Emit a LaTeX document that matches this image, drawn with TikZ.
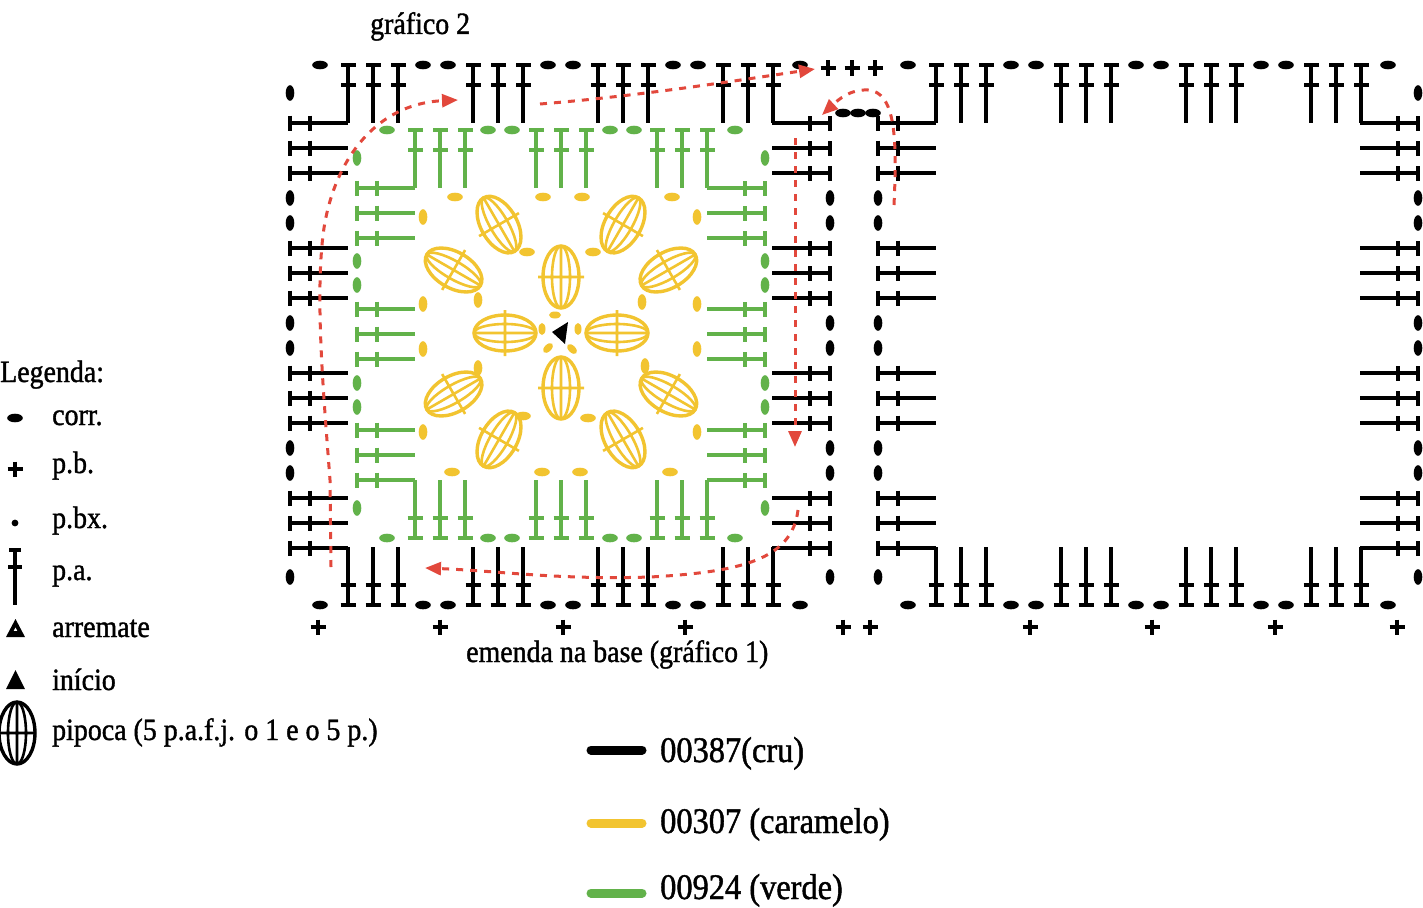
\documentclass[tikz,border=0pt]{standalone}
\usepackage{fontspec}
\setmainfont{Liberation Serif}[FakeStretch=0.9,FakeBold=1.2]
\usetikzlibrary{arrows.meta}
\definecolor{grn}{RGB}{98,178,74}
\definecolor{ylw}{RGB}{242,196,48}
\definecolor{rd}{RGB}{226,72,60}
\tikzset{
  blk/.style={draw=black, line width=3.6pt},
  gst/.style={draw=grn, line width=3.6pt},
  lbl/.style={font=\fontsize{31}{36}\selectfont, inner sep=0pt, anchor=base west},
  clbl/.style={font=\fontsize{36}{40}\selectfont, inner sep=0pt, anchor=base west},
  redpath/.style={draw=rd, line width=3pt, dash pattern=on 7pt off 7pt},
  redarrow/.style={redpath, -{Triangle[length=16pt,width=13pt]}},
  colorbar/.style={line width=9pt, line cap=round}
}
% p.a. stitch: bar at (x,y), stem of 58 in direction given by angle
\newcommand{\pastitch}[4]{%
  \begin{scope}[shift={({#2},{#3})}, rotate=#4]
    \draw[#1] (0,-7.5) -- (0,7.5) (0,0) -- (58,0) (20,-7.5) -- (20,7.5);
  \end{scope}}
% chain (corr.)
\newcommand{\chn}[4]{%
  \begin{scope}[shift={({#2},{#3})}, rotate=#4]
    \fill[#1] (0,0) ellipse [x radius=7.8, y radius=4.3];
  \end{scope}}
\newcommand{\chsmall}[4]{%
  \begin{scope}[shift={({#2},{#3})}, rotate=#4]
    \fill[#1] (0,0) ellipse [x radius=6, y radius=3.5];
  \end{scope}}
% p.b.
\newcommand{\pbst}[2]{\draw[blk, line width=3.2pt] ({#1-7.5},{#2}) -- ({#1+7.5},{#2}) ({#1},{#2-7.5}) -- ({#1},{#2+7.5});}
% pipoca
\newcommand{\pipoca}[5]{%
  \begin{scope}[shift={({#2},{#3})}, rotate=#4]
    \draw[draw=#1, line width=3.4pt] (0,0) ellipse [x radius=31, y radius=18];
    \draw[draw=#1, line width=2.6pt] (0,0) ellipse [x radius=31, y radius=9]
      (-31,0) -- (31,0) (0,-#5) -- (0,#5);
  \end{scope}}
% common black square (left square geometry, shifted)
\newcommand{\crusq}[1]{%
  \begin{scope}[shift={(#1,0)}]
    \foreach \o in {58,83,108,183,208,233,308,333,358,433,458,483}{
      \pastitch{blk}{290+\o}{65}{-90}
      \pastitch{blk}{290+\o}{605}{90}
      \pastitch{blk}{290}{65+\o}{0}
      \pastitch{blk}{830}{65+\o}{180}
    }
    \foreach \o in {133,158,258,283,383,408}{
      \chn{black}{290+\o}{65}{0}
      \chn{black}{290+\o}{605}{0}
      \chn{black}{290}{65+\o}{90}
      \chn{black}{830}{65+\o}{90}
    }
    \chn{black}{320}{65}{0}\chn{black}{800}{65}{0}
    \chn{black}{320}{605}{0}\chn{black}{800}{605}{0}
    \chn{black}{290}{577}{90}\chn{black}{830}{577}{90}
  \end{scope}}
\begin{document}
\begin{tikzpicture}[x=1pt,y=-1pt]
\useasboundingbox (0,0) rectangle (1423,907);
\fill[white] (0,0) rectangle (1423,907);

% ---------- black outer rounds ----------
\crusq{0}
\crusq{588}
\chn{black}{290}{93}{90}
\chn{black}{1418}{93}{90}
% join between the squares
\pbst{828}{68}\pbst{852}{68}\pbst{875}{68}
\chn{black}{843}{113}{0}\chn{black}{858}{113}{0}\chn{black}{873}{113}{0}
% p.b. along the base
\foreach \px in {318,440,563,685,843,870,1030,1152,1275,1397}{\pbst{\px}{627}}

% ---------- green round ----------
\foreach \o in {58,83,108,179,204,229,300,325,350}{
  \pastitch{gst}{357+\o}{130}{-90}
  \pastitch{gst}{357+\o}{538}{90}
  \pastitch{gst}{357}{130+\o}{0}
  \pastitch{gst}{765}{130+\o}{180}
}
\foreach \o in {131,155,253,277}{
  \chn{grn}{357+\o}{130}{0}
  \chn{grn}{357+\o}{538}{0}
  \chn{grn}{357}{130+\o}{90}
  \chn{grn}{765}{130+\o}{90}
}
\chn{grn}{387}{130}{0}\chn{grn}{735}{130}{0}
\chn{grn}{387}{538}{0}\chn{grn}{735}{538}{0}
\chn{grn}{357}{158}{90}\chn{grn}{357}{508}{90}
\chn{grn}{765}{158}{90}\chn{grn}{765}{508}{90}

% ---------- yellow flower ----------
\foreach \px in {455,543,582,672}{\chn{ylw}{\px}{197}{0}}
\foreach \px in {452,542,580,670}{\chn{ylw}{\px}{472}{0}}
\foreach \py in {217,304,349,432}{\chn{ylw}{423}{\py}{90}\chn{ylw}{697}{\py}{90}}
\chn{ylw}{527}{252}{0}\chn{ylw}{593}{252}{0}
\chn{ylw}{523}{416}{0}\chn{ylw}{588}{418}{0}
\chn{ylw}{478}{300}{90}\chn{ylw}{478}{368}{90}
\chn{ylw}{642}{302}{90}\chn{ylw}{645}{366}{90}
\chsmall{ylw}{555}{315}{0}
\chsmall{ylw}{542}{329}{90}
\chsmall{ylw}{548}{348}{45}
\chsmall{ylw}{572}{349}{-45}
\chsmall{ylw}{578}{329}{90}
\foreach \a in {30,60,120,150,210,240,300,330}{
  \pipoca{ylw}{561+124*cos(\a)}{332-124*sin(\a)}{\a}{23}
}
\pipoca{ylw}{561}{277}{90}{23}
\pipoca{ylw}{561}{388}{90}{23}
\pipoca{ylw}{505}{333}{0}{23}
\pipoca{ylw}{617}{333}{0}{23}
% inicio
\fill[black] (552,332) -- (568,322) -- (565,344) -- cycle;

% ---------- red working direction ----------
\coordinate (a0) at (331,567); \coordinate (a1) at (458,100);
\coordinate (b0) at (540,104); \coordinate (b1) at (815,69);
\coordinate (c0) at (894,205); \coordinate (c1) at (822,115);
\coordinate (d0) at (795,138); \coordinate (d1) at (795,447);
\coordinate (e0) at (798,510); \coordinate (e1) at (425,568);
\draw[redarrow] (a0) -- (330,480) .. controls (324,400) and (316,310) .. (322,245)
   .. controls (328,170) and (370,104) .. (a1);
\draw[redarrow] (b0) .. controls (640,96) and (740,80) .. (b1);
\draw[redarrow] (c0) .. controls (897,140) and (896,92) .. (868,90)
   .. controls (850,89) and (838,100) .. (c1);
\draw[redarrow] (d0) -- (d1);
\draw[redarrow] (e0) .. controls (792,560) and (740,572) .. (650,577)
   .. controls (560,580) and (500,571) .. (e1);

% ---------- texts ----------
\node[lbl] (titulo) at (370,34) {gráfico 2};
\node[lbl] (emenda) at (466,662) {emenda na base (gráfico 1)};
\node[lbl] (legenda) at (0,382) {Legenda:};
\node[lbl] (lcorr) at (52,425) {corr.};
\node[lbl] (lpb) at (52,473) {p.b.};
\node[lbl] (lpbx) at (52,528) {p.bx.};
\node[lbl] (lpa) at (52,580) {p.a.};
\node[lbl] (larr) at (52,637) {arremate};
\node[lbl] (lini) at (52,690) {início};
\node[lbl] (lpip) at (52,740) {pipoca (5 p.a.f.j. o 1 e o 5 p.)};

% legend symbols
\chn{black}{15}{418}{0}
\pbst{15}{469}
\fill[black] (15,523) circle [radius=3.4];
\draw[blk, line width=3.2pt] (9,550) -- (21,550) (15,550) -- (15,605) (8,567) -- (22,567);
\fill[black, even odd rule] (6,637) -- (25,637) -- (15.5,619) -- cycle (13.5,631) -- (17.5,631) -- (15.5,627) -- cycle;
\fill[black] (6,689) -- (25,689) -- (15.5,670) -- cycle;
\pipoca{black}{17}{733}{90}{19}

% colour legend
\draw[colorbar, black] (591,750) -- (642,750);
\draw[colorbar, ylw] (591,823) -- (642,823);
\draw[colorbar, grn] (591,893) -- (642,893);
\node[clbl] (cru) at (660,762) {00387(cru)};
\node[clbl] (caramelo) at (660,833) {00307 (caramelo)};
\node[clbl] (verde) at (660,899) {00924 (verde)};
\end{tikzpicture}
\end{document}
